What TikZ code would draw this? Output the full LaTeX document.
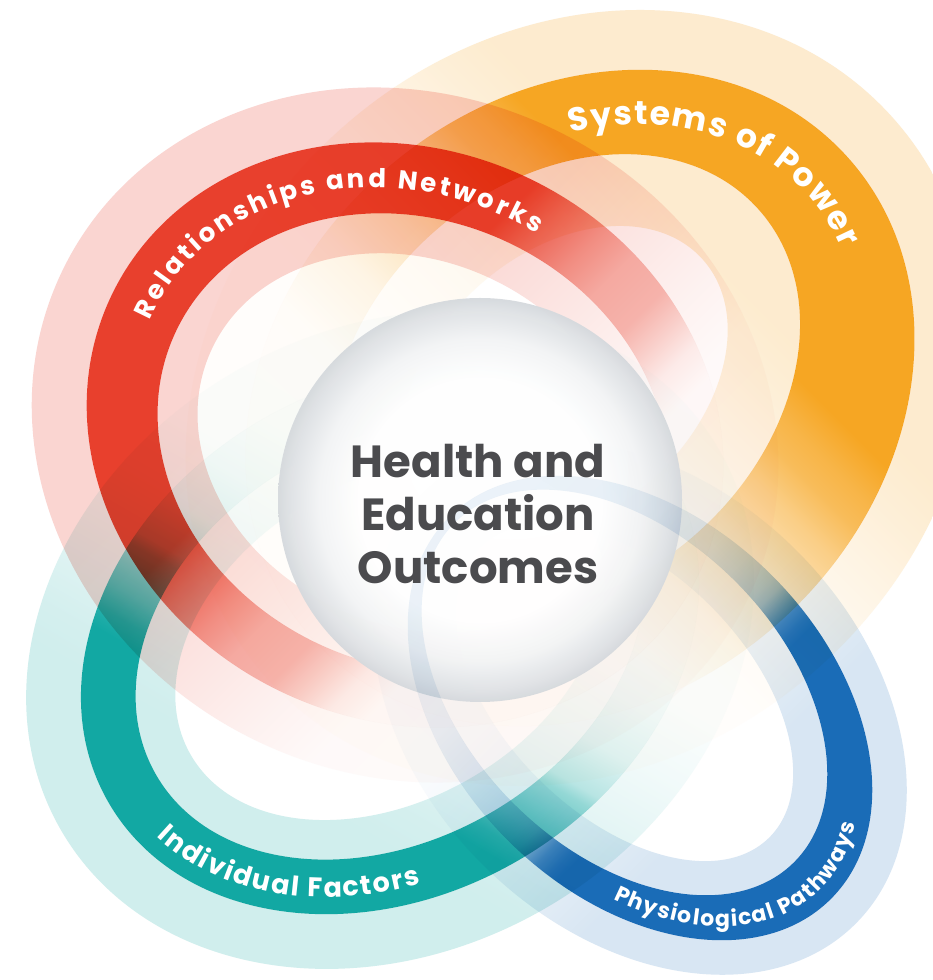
\documentclass[tikz,border=0pt]{standalone}
\usepackage{fontspec}
\setmainfont{Poppins}
\usetikzlibrary{decorations.text}

\definecolor{redA}{HTML}{E8402D}
\definecolor{yelA}{HTML}{F6A623}
\definecolor{tealA}{HTML}{12A8A3}
\definecolor{blueA}{HTML}{1A6CB7}
\definecolor{txtG}{HTML}{4B4B4E}
\definecolor{cirG}{HTML}{D5D9DD}

\pgfdeclareverticalshading{redband}{100bp}{color(0bp)=(redA!3); color(35.5bp)=(redA!4); color(38bp)=(redA!11); color(40bp)=(redA!24); color(42.5bp)=(redA!40); color(46bp)=(redA!45); color(49bp)=(redA!60); color(52.5bp)=(redA!82); color(55bp)=(redA); color(100bp)=(redA)}
\pgfdeclareverticalshading{redhalo}{100bp}{color(0bp)=(redA!1); color(38bp)=(redA!3); color(42bp)=(redA!7); color(47bp)=(redA!13); color(53bp)=(redA!20); color(58bp)=(redA!22); color(100bp)=(redA!22)}
\pgfdeclareverticalshading{yelband}{100bp}{color(0bp)=(yelA!1); color(40bp)=(yelA!3); color(45.5bp)=(yelA!12); color(50bp)=(yelA!30); color(54.5bp)=(yelA!55); color(57bp)=(yelA!75); color(59bp)=(yelA!84); color(61.5bp)=(yelA); color(100bp)=(yelA)}
\pgfdeclareverticalshading{yelhalo}{100bp}{color(0bp)=(yelA!1); color(44bp)=(yelA!2); color(50bp)=(yelA!6); color(55bp)=(yelA!13); color(58bp)=(yelA!18); color(61bp)=(yelA!22); color(100bp)=(yelA!22)}
\pgfdeclareverticalshading{tealband}{100bp}{color(0bp)=(tealA!2); color(40bp)=(tealA!3); color(45bp)=(tealA!7); color(49bp)=(tealA!14); color(52.5bp)=(tealA!30); color(53.5bp)=(tealA!45); color(57bp)=(tealA!72); color(59bp)=(tealA!92); color(60.5bp)=(tealA); color(100bp)=(tealA)}
\pgfdeclareverticalshading{tealhalo}{100bp}{color(0bp)=(tealA!1); color(44bp)=(tealA!2); color(49bp)=(tealA!6); color(54bp)=(tealA!12); color(59bp)=(tealA!18); color(62bp)=(tealA!20); color(100bp)=(tealA!20)}
\pgfdeclareverticalshading{blueband}{100bp}{color(0bp)=(blueA!6); color(38bp)=(blueA!10); color(44bp)=(blueA!17); color(47bp)=(blueA!24); color(50bp)=(blueA!36); color(51.2bp)=(blueA!45); color(53.5bp)=(blueA!82); color(55bp)=(blueA!95); color(56bp)=(blueA); color(100bp)=(blueA)}
\pgfdeclareverticalshading{bluehalo}{100bp}{color(0bp)=(blueA!1); color(42bp)=(blueA!3); color(50bp)=(blueA!7); color(55bp)=(blueA!12); color(60bp)=(blueA!17); color(100bp)=(blueA!17)}
\pgfdeclareradialshading{ctrball}{\pgfpoint{0bp}{0bp}}{color(0bp)=(white); color(15bp)=(white); color(20bp)=(cirG!30); color(23.5bp)=(cirG!75); color(25bp)=(cirG); color(26bp)=(cirG!60); color(50bp)=(cirG!60)}

\newcommand\fRed{\bfseries\fontsize{26}{30}\selectfont}
\newcommand\fYel{\bfseries\fontsize{33}{38}\selectfont}
\newcommand\fTeal{\bfseries\fontsize{27}{32}\selectfont}
\newcommand\fBlue{\bfseries\fontsize{22}{26}\selectfont}

\tikzset{
  ringtext/.style={decorate, decoration={text along path, text color=white, text align={fit to path}}},
  redframe/.style={shift={(405,545)}, rotate=-25},
  yelframe/.style={shift={(580,582)}, rotate=42},
  tealframe/.style={shift={(390,340)}, rotate=30},
  blueframe/.style={shift={(640,272)}, rotate=-45},
}

\begin{document}
\begin{tikzpicture}[x=1pt,y=1pt]
\useasboundingbox (0,0) rectangle (932,980);
\fill[white] (0,0) rectangle (932,980);

\begin{scope}[blend mode=multiply]
  % pale halos
  \begin{scope}[redframe]
    \shade[shading=redhalo, shading angle=45, even odd rule]
      (0,0) ellipse[x radius=380, y radius=340] (0,0) ellipse[x radius=325, y radius=285]
      (10.6,-3.9) ellipse[x radius=262, y radius=222] (10.6,-3.9) ellipse[x radius=222, y radius=182];
  \end{scope}
  \begin{scope}[yelframe]
    \shade[shading=yelhalo, shading angle=-45, even odd rule]
      (0,0) ellipse[x radius=420, y radius=360] (0,0) ellipse[x radius=360, y radius=300]
      (-1.1,21.2) ellipse[x radius=260, y radius=200] (-1.1,21.2) ellipse[x radius=185, y radius=130];
  \end{scope}
  \begin{scope}[tealframe]
    \shade[shading=tealhalo, shading angle=150, even odd rule]
      (0,0) ellipse[x radius=380, y radius=310] (0,0) ellipse[x radius=325, y radius=255]
      (0,0) ellipse[x radius=270, y radius=200] (0,0) ellipse[x radius=230, y radius=160];
  \end{scope}
  \begin{scope}[blueframe]
    \shade[shading=bluehalo, shading angle=-135, even odd rule]
      (0,0) ellipse[x radius=305, y radius=222] (0,0) ellipse[x radius=270, y radius=187]
      (-22,0) ellipse[x radius=240, y radius=157] (-22,0) ellipse[x radius=205, y radius=122];
  \end{scope}
  % bright bands
  \begin{scope}[yelframe]
    \shade[shading=yelband, shading angle=-45, even odd rule]
      (0,0) ellipse[x radius=360, y radius=300] (-1.1,21.2) ellipse[x radius=260, y radius=200];
  \end{scope}
  \begin{scope}[redframe]
    \shade[shading=redband, shading angle=45, even odd rule]
      (0,0) ellipse[x radius=325, y radius=285] (10.6,-3.9) ellipse[x radius=262, y radius=222];
  \end{scope}
  \begin{scope}[tealframe]
    \shade[shading=tealband, shading angle=150, even odd rule]
      (0,0) ellipse[x radius=325, y radius=255] (0,0) ellipse[x radius=270, y radius=200];
  \end{scope}
\end{scope}

% centre disc
\shade[shading=ctrball, opacity=0.96] (480,480) circle[radius=202];

\begin{scope}[blend mode=multiply]
  \begin{scope}[blueframe]
    \shade[shading=blueband, shading angle=-135, even odd rule]
      (0,0) ellipse[x radius=270, y radius=187] (-22,0) ellipse[x radius=240, y radius=157];
  \end{scope}
\end{scope}

% labels along the rings
\begin{scope}[redframe]
  \path[ringtext, decoration={text={|\fRed|Relationships and Networks}}]
    (181:280 and 240) arc[start angle=181, end angle=83, x radius=280, y radius=240];
\end{scope}
\begin{scope}[yelframe]
  \path[ringtext, decoration={text={|\fYel|Systems of Power}}]
    (56:305 and 245) arc[start angle=56, end angle=-15, x radius=305, y radius=245];
\end{scope}
\begin{scope}[tealframe]
  \path[ringtext, decoration={text={|\fTeal|Individual Factors}}]
    (193:308 and 238) arc[start angle=193, end angle=252, x radius=308, y radius=238];
\end{scope}
\begin{scope}[blueframe]
  \path[ringtext, decoration={text={|\fBlue|Physiological Pathways}}]
    (297:256 and 173) arc[start angle=297, end angle=384, x radius=256, y radius=173];
\end{scope}

\node[font=\bfseries\fontsize{45}{53}\selectfont, text=txtG, align=center] (outcomes) at (478,466) {Health and\\Education\\Outcomes};
\end{tikzpicture}
\end{document}
